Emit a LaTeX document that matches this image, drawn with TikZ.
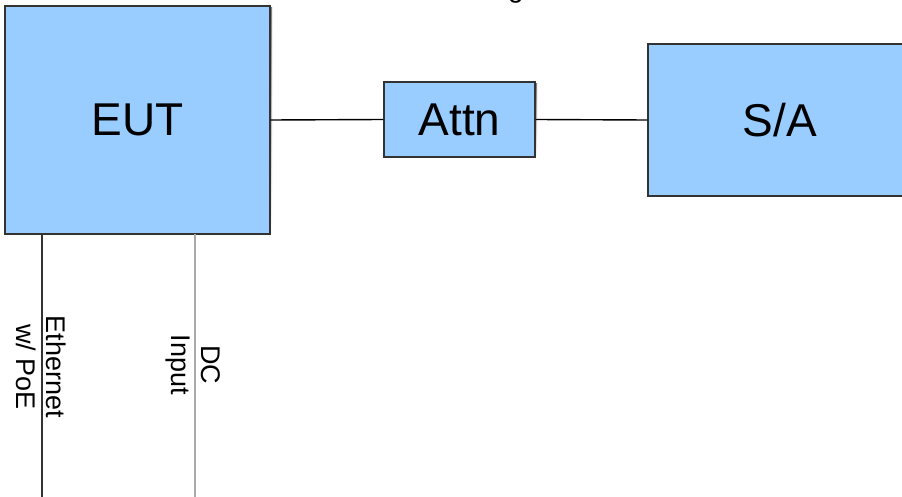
\documentclass[tikz,border=0pt]{standalone}
\usepackage{fontspec}
\setmainfont{Liberation Sans}
\definecolor{boxfill}{HTML}{99CCFF}
\definecolor{boxline}{HTML}{333333}
\definecolor{shade}{HTML}{B0B0B0}
\definecolor{dcline}{HTML}{AAAAAA}
\begin{document}
\begin{tikzpicture}[x=1pt,y=-1pt,
  blockbox/.style={draw=boxline,fill=boxfill,line width=1.4pt,inner sep=0pt,
    font=\fontsize{46}{50}\selectfont},
  shadowbox/.style={fill=shade,draw=none,inner sep=0pt},
  wire/.style={draw=black,line width=1.4pt},
  graywire/.style={draw=dcline,line width=1.4pt},
  vlabel/.style={rotate=-90,align=center,inner sep=0pt,
    font=\fontsize{27}{30}\selectfont}]
\clip (0,0) rectangle (902,497);
\fill[white] (0,0) rectangle (902,497);
% title fragment
\node[anchor=base,inner sep=0pt,font=\fontsize{28}{30}\selectfont] (title) at (516,-2) {g};
% shadows
\fill[shade] (7,8) rectangle (272,236);
\fill[shade] (386,84) rectangle (537,159);
\fill[shade] (650,46) rectangle (914,198);
% blocks
\node[blockbox,minimum width=265pt,minimum height=228pt] (eut) at (137.5,120) {EUT};
\node[blockbox,minimum width=151pt,minimum height=75pt] (attn) at (459.5,119.5) {Attn};
\node[blockbox,minimum width=264pt,minimum height=152pt] (sa) at (780,120) {S/A};
% connectors
\draw[wire] (eut.east) -- (attn.west);
\draw[wire] (attn.east) -- (sa.west);
\coordinate (ethtop) at (42,234);
\coordinate (ethend) at (42,497);
\coordinate (dctop) at (195,234);
\coordinate (dcend) at (195,497);
\draw[draw=boxline,line width=1.4pt] (ethtop) -- (ethend);
\draw[graywire] (dctop) -- (dcend);
% labels
\node[vlabel] (ethlabel) at (41,367) {Ethernet\\w/ PoE};
\node[vlabel] (dclabel) at (193,365) {DC\\Input};
\end{tikzpicture}
\end{document}
